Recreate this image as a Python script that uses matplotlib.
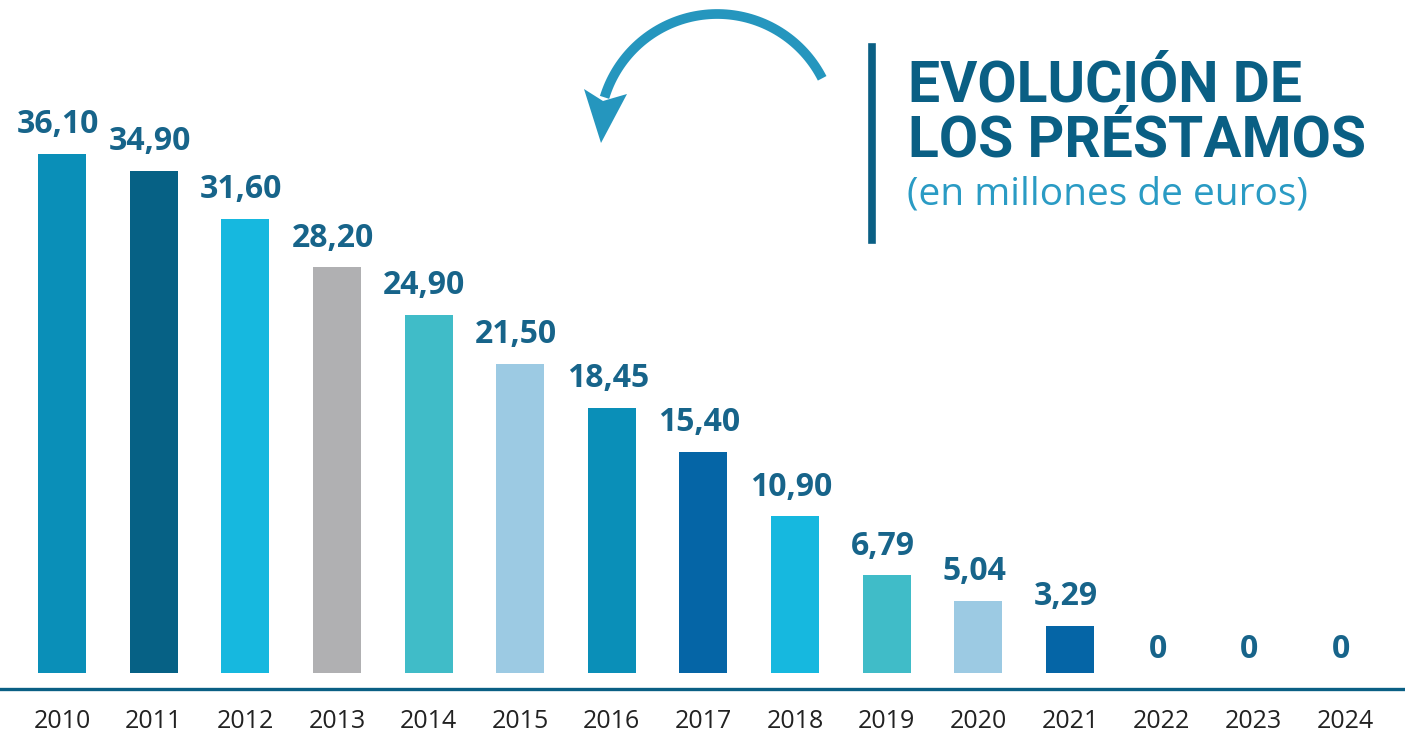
import numpy as np
import matplotlib
matplotlib.use("Agg")
import matplotlib.pyplot as plt
from matplotlib.patches import Polygon

# ---
# data
# ---
years = ["2010", "2011", "2012", "2013", "2014", "2015", "2016", "2017",
         "2018", "2019", "2020", "2021", "2022", "2023", "2024"]
values = [36.10, 34.90, 31.60, 28.20, 24.90, 21.50, 18.45, 15.40,
          10.90, 6.79, 5.04, 3.29, 0, 0, 0]
labels = ["36,10", "34,90", "31,60", "28,20", "24,90", "21,50", "18,45", "15,40",
          "10,90", "6,79", "5,04", "3,29", "0", "0", "0"]
bar_colors = ["#0a8fb8", "#066185", "#16b8df", "#b0b0b2", "#40bcc8", "#9ccae3",
              "#0a8fb8", "#0565a6", "#16b8df", "#40bcc8", "#9ccae3", "#0565a6",
              "#0565a6", "#0565a6", "#0565a6"]

dark_blue = "#0a5f84"
label_col = "#17648a"
light_blue = "#2a9bc4"
arrow_col = "#2596be"

W, H = 1405, 733
fig = plt.figure(figsize=(W / 100, H / 100), dpi=100)
ax = fig.add_axes([0, 0, 1, 1])

# pixel mapping: bar centres at 62 + 91.64*i, baseline at y=673, 14.38 px per unit
px_step = 91.64
px_unit = 14.38
ax.set_xlim(-62 / px_step, (W - 62) / px_step)
ax.set_ylim(-(H - 673) / px_unit, 673 / px_unit)
ax.axis("off")

x = np.arange(len(years))
ax.bar(x, values, width=48 / px_step, color=bar_colors, zorder=2)

for xi, v, lab in zip(x, values, labels):
    # zero labels sit a bit closer to the base line
    off = 21 if v > 0 else 17
    ax.annotate(lab, (xi, v), xytext=(-3, off), textcoords="offset points",
                ha="center", va="center", fontsize=23, fontweight="bold",
                family="Open Sans", color=label_col)

# base line
ax.axhline(-16 / px_unit, color=dark_blue, lw=2.4, zorder=1)

for xi, yr in zip(x, years):
    ax.text(xi, -49 / px_unit, yr, ha="center", va="center",
            fontsize=18, family="Open Sans", color="#222222")


# ---
# title block (positions in pixels, converted to figure fraction)
# ---
def fx(p):
    return p / W


def fy(p):
    return 1 - p / H


fig.add_artist(plt.Line2D([fx(871.5), fx(871.5)], [fy(47), fy(240)],
                          color=dark_blue, lw=5.5, transform=fig.transFigure))

fig.text(fx(908), fy(86), "EVOLUCIÓN DE", family="Roboto", fontweight="bold",
         fontsize=41, color=dark_blue, va="center", ha="left")
fig.text(fx(908), fy(141), "LOS PRÉSTAMOS", family="Roboto", fontweight="bold",
         fontsize=41, color=dark_blue, va="center", ha="left")
fig.text(fx(907), fy(194), "(en millones de euros)", family="Open Sans",
         fontsize=28, color=light_blue, va="center", ha="left")

# curved arrow: shaft as circular arc, head as polygon
cx, cy, r = 717.2, 131.8, 117.8
theta = np.radians(np.linspace(27, 163, 80))
sx = cx + r * np.cos(theta)
sy = cy - r * np.sin(theta)
fig.add_artist(plt.Line2D(fx(sx), fy(sy), color=arrow_col, lw=7,
                          solid_capstyle="butt", transform=fig.transFigure))
head = [(584, 89), (603, 101), (627, 94), (601, 143)]
fig.add_artist(Polygon([(fx(a), fy(b)) for a, b in head], closed=True,
                       color=arrow_col, lw=0, transform=fig.transFigure))

fig.savefig("out.png", dpi=100)
